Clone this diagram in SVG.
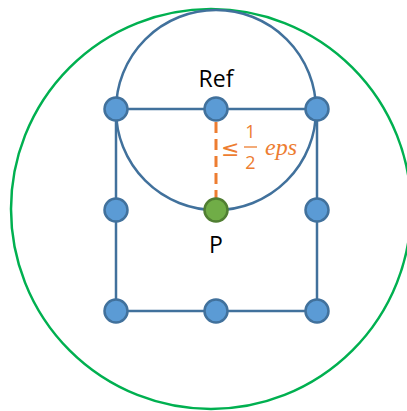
<svg xmlns="http://www.w3.org/2000/svg" width="407" height="411" viewBox="0 0 407 411">
<style>
.edge{stroke:#41719C;stroke-width:2.5;fill:none}
.node{fill:#5B9BD5;stroke:#41719C;stroke-width:2.5}
.lbl{font-family:"Open Sans","Liberation Sans",sans-serif;font-size:23px;fill:#000;text-anchor:middle}
.m{fill:#ED7D31;font-family:"Liberation Serif","DejaVu Serif",serif}
.d{fill:#ED7D31;font-family:"Open Sans","Liberation Sans",sans-serif;font-size:18px;text-anchor:middle}
</style>
<rect width="407" height="411" fill="#fff"/>
<circle id="outer" cx="211" cy="209" r="200" fill="none" stroke="#00B050" stroke-width="2.5"/>
<circle id="refcircle" cx="216" cy="110" r="100" fill="none" stroke="#41719C" stroke-width="2.5"/>
<g id="connectors">
<line class="edge" x1="116" y1="109" x2="317" y2="109"/>
<line class="edge" x1="116" y1="311" x2="317" y2="311"/>
<line class="edge" x1="116" y1="109" x2="116" y2="311"/>
<line class="edge" x1="317" y1="109" x2="317" y2="311"/>
<line x1="216" y1="122" x2="216" y2="198" stroke="#ED7D31" stroke-width="3" stroke-dasharray="11,6"/>
</g>
<g id="n1"><circle class="node" cx="116" cy="109" r="11.5"/></g>
<g id="ref"><circle class="node" cx="216" cy="109" r="11.5"/></g>
<g id="n3"><circle class="node" cx="317" cy="109" r="11.5"/></g>
<g id="n4"><circle class="node" cx="116" cy="210" r="11.5"/></g>
<g id="p"><circle cx="216" cy="210" r="11.5" fill="#70AD47" stroke="#507E32" stroke-width="2.5"/></g>
<g id="n6"><circle class="node" cx="317" cy="210" r="11.5"/></g>
<g id="n7"><circle class="node" cx="116" cy="311" r="11.5"/></g>
<g id="n8"><circle class="node" cx="216" cy="311" r="11.5"/></g>
<g id="n9"><circle class="node" cx="317" cy="311" r="11.5"/></g>
<text class="lbl" x="216" y="87">Ref</text>
<text class="lbl" x="216" y="253">P</text>
<g id="formula">
<text x="221" y="156" font-size="22" fill="#ED7D31" font-family="DejaVu Sans,sans-serif">≤</text>
<text class="d" x="250.5" y="137.5">1</text>
<line x1="244" y1="147" x2="257" y2="147" stroke="#ED7D31" stroke-width="1.3"/>
<text class="d" x="250.5" y="169">2</text>
<text class="m" x="265" y="155" font-size="24" font-style="italic">eps</text>
</g>
</svg>
